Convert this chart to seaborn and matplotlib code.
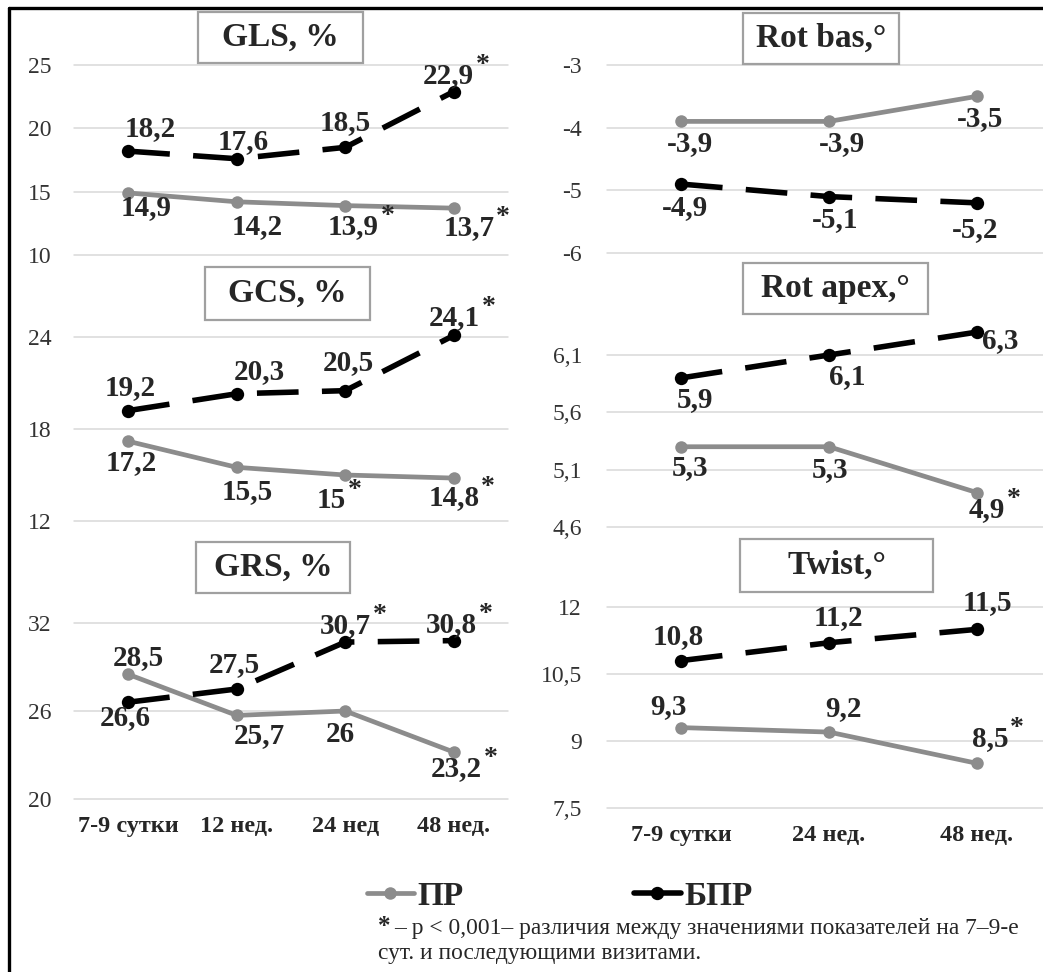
import matplotlib
matplotlib.use("Agg")
import matplotlib.pyplot as plt
import seaborn as sns
import pandas as pd
from matplotlib.lines import Line2D
from matplotlib.patches import Rectangle

# categories
periods_left = ["7-9 сутки", "12 нед.", "24 нед", "48 нед."]
periods_right = ["7-9 сутки", "24 нед.", "48 нед."]
groups = ["ПР", "БПР"]

# values, ПР / БПР
gls_pr = [14.9, 14.2, 13.9, 13.7]
gls_bpr = [18.2, 17.6, 18.5, 22.9]
gcs_pr = [17.2, 15.5, 15.0, 14.8]
gcs_bpr = [19.2, 20.3, 20.5, 24.1]
grs_pr = [28.5, 25.7, 26.0, 23.2]
grs_bpr = [26.6, 27.5, 30.7, 30.8]
rotbas_pr = [-3.9, -3.9, -3.5]
rotbas_bpr = [-4.9, -5.1, -5.2]
rotapex_pr = [5.3, 5.3, 4.9]
rotapex_bpr = [5.9, 6.1, 6.3]
twist_pr = [9.3, 9.2, 8.5]
twist_bpr = [10.8, 11.2, 11.5]

# significance marks (p < 0.001)
gls_pr_sig = [0, 0, 1, 1]
gls_bpr_sig = [0, 0, 0, 1]
gcs_pr_sig = [0, 0, 1, 1]
gcs_bpr_sig = [0, 0, 0, 1]
grs_pr_sig = [0, 0, 0, 1]
grs_bpr_sig = [0, 0, 1, 1]
rotbas_pr_sig = [0, 0, 0]
rotbas_bpr_sig = [0, 0, 0]
rotapex_pr_sig = [0, 0, 1]
rotapex_bpr_sig = [0, 0, 0]
twist_pr_sig = [0, 0, 1]
twist_bpr_sig = [0, 0, 0]

# y ticks
gls_ticks = [10, 15, 20, 25]
gcs_ticks = [12, 18, 24]
grs_ticks = [20, 26, 32]
rotbas_ticks = [-6, -5, -4, -3]
rotapex_ticks = [4.6, 5.1, 5.6, 6.1]
twist_ticks = [7.5, 9, 10.5, 12]

GRAY = "#8c8c8c"
W, H = 1043, 972
LW = [3.4, 4.0]
MS = [9.0, 9.6]

sns.set_style("white")
plt.rcParams["font.family"] = ["Liberation Serif", "DejaVu Serif"]

fig = plt.figure(figsize=(W / 100, H / 100), dpi=100)


def fmt(v):
    return f"{v:g}".replace(".", ",")


def panel(box, cats, pr, bpr, ticks, pr_sig, bpr_sig, offs_pr, offs_bpr,
          title, tbox, show_x, ypad):
    x0, x1, y0, y1 = box
    ax = fig.add_axes([x0 / W, 1 - y1 / H, (x1 - x0) / W, (y1 - y0) / H])
    df = pd.DataFrame({"period": cats * 2,
                       "value": pr + bpr,
                       "group": ["ПР"] * len(cats) + ["БПР"] * len(cats)})
    sns.lineplot(data=df, x="period", y="value", hue="group", style="group",
                 hue_order=groups, style_order=groups,
                 palette={"ПР": GRAY, "БПР": "black"},
                 dashes={"ПР": "", "БПР": (7.5, 4.2)},
                 markers={"ПР": "o", "БПР": "o"},
                 markeredgewidth=0, sort=False, errorbar=None,
                 legend=False, ax=ax)
    for ln, lw, ms in zip(ax.lines, LW, MS):
        ln.set_linewidth(lw)
        ln.set_markersize(ms)
        ln.set_clip_on(False)
        ln.set_dash_capstyle("butt")

    ax.set_xlim(-0.5, len(cats) - 0.5)
    ax.set_ylim(ticks[0], ticks[-1])
    ax.set_yticks(ticks)
    ax.set_yticklabels([fmt(t) for t in ticks], fontsize=17, color="#333333")
    ax.grid(axis="y", color="#d9d9d9", lw=1.1)
    ax.grid(axis="x", visible=False)
    for g in ax.yaxis.get_gridlines():
        g.set_clip_on(False)
    ax.set_axisbelow(True)
    sns.despine(ax=ax, left=True, bottom=True)
    ax.tick_params(axis="y", length=0, pad=ypad)
    ax.tick_params(axis="x", length=0, pad=12)
    ax.set_xlabel("")
    ax.set_ylabel("")
    if show_x:
        ax.set_xticks(range(len(cats)))
        ax.set_xticklabels(cats, fontsize=17.5, fontweight="bold")
    else:
        ax.set_xticklabels([])
    ax.patch.set_alpha(0)

    for vals, sig, offs in [(pr, pr_sig, offs_pr), (bpr, bpr_sig, offs_bpr)]:
        for c, v, s, (dx, dy) in zip(cats, vals, sig, offs):
            lab = ax.annotate(fmt(v), xy=(c, v), xytext=(dx, -dy),
                              textcoords="offset pixels", ha="center",
                              va="center", fontsize=21, fontweight="bold",
                              annotation_clip=False)
            if s:
                ax.annotate("*", xy=(1, 1), xycoords=lab, xytext=(2, -10),
                            textcoords="offset pixels", ha="left",
                            va="baseline", fontsize=20, fontweight="bold")

    bx0, bx1, by0, by1 = tbox
    fig.add_artist(Rectangle((bx0 / W, 1 - by1 / H), (bx1 - bx0) / W,
                             (by1 - by0) / H, transform=fig.transFigure,
                             facecolor="white", edgecolor="#a0a0a0", lw=1.6))
    fig.text((bx0 + bx1) / 2 / W, 1 - (by0 + by1) / 2 / H, title,
             ha="center", va="center", fontsize=24, fontweight="bold")
    return ax


panel((74, 508, 65, 255), periods_left, gls_pr, gls_bpr, gls_ticks,
      gls_pr_sig, gls_bpr_sig,
      [(18, 15), (20, 25), (8, 21), (15, 19)],
      [(22, -23), (6, -17), (0, -25), (-5, -16)],
      "GLS, %", (198, 363, 12, 63), False, 16)
panel((74, 508, 337, 521), periods_left, gcs_pr, gcs_bpr, gcs_ticks,
      gcs_pr_sig, gcs_bpr_sig,
      [(3, 21), (10, 24), (-14, 25), (0, 19)],
      [(2, -23), (23, -22), (3, -28), (1, -18)],
      "GCS, %", (205, 370, 267, 320), False, 16)
panel((74, 508, 623, 799), periods_left, grs_pr, grs_bpr, grs_ticks,
      grs_pr_sig, grs_bpr_sig,
      [(10, -17), (23, 20), (-5, 24), (3, 16)],
      [(-3, 15), (-2, -24), (0, -17), (-2, -16)],
      "GRS, %", (196, 350, 542, 593), True, 16)
panel((607, 1051, 65, 253), periods_right, rotbas_pr, rotbas_bpr, rotbas_ticks,
      rotbas_pr_sig, rotbas_bpr_sig,
      [(9, 22), (13, 22), (3, 22)],
      [(4, 23), (6, 23), (-2, 27)],
      "Rot bas,°", (743, 899, 13, 64), False, 18)
panel((607, 1051, 355, 527), periods_right, rotapex_pr, rotapex_bpr,
      rotapex_ticks, rotapex_pr_sig, rotapex_bpr_sig,
      [(9, 21), (1, 23), (10, 17)],
      [(14, 22), (18, 22), (23, 8)],
      "Rot apex,°", (743, 928, 263, 314), False, 18)
panel((607, 1051, 607, 808), periods_right, twist_pr, twist_bpr, twist_ticks,
      twist_pr_sig, twist_bpr_sig,
      [(-13, -21), (14, -24), (13, -25)],
      [(-3, -24), (9, -25), (10, -27)],
      "Twist,°", (740, 933, 539, 592), True, 18)

# legend
handles = [Line2D([], [], color=GRAY, lw=LW[0], marker="o", ms=MS[0], mew=0),
           Line2D([], [], color="black", lw=LW[1], marker="o", ms=MS[1], mew=0)]
fig.legend(handles, groups, loc="center", bbox_to_anchor=(560 / W, 1 - 896 / H),
           ncol=2, frameon=False, handlelength=1.4, handletextpad=0.12,
           columnspacing=5.1, prop={"weight": "bold", "size": 24})

# footnote
fig.text(378 / W, 1 - 926 / H, "*", fontsize=18, fontweight="bold",
         ha="left", va="center")
fig.text(394 / W, 1 - 928 / H,
         "– p < 0,001– различия между значениями показателей на 7–9-е",
         fontsize=16.9, ha="left", va="center")
fig.text(378 / W, 1 - 953 / H, "сут. и последующими визитами.",
         fontsize=16.9, ha="left", va="center")

# frame (left and top edges)
fig.add_artist(Line2D([8.5 / W, 8.5 / W], [0, 1 - 8.5 / H], color="black",
                      lw=2.4, transform=fig.transFigure))
fig.add_artist(Line2D([8.5 / W, 1], [1 - 8.5 / H, 1 - 8.5 / H], color="black",
                      lw=2.4, transform=fig.transFigure))

fig.savefig("out.png", dpi=100)
